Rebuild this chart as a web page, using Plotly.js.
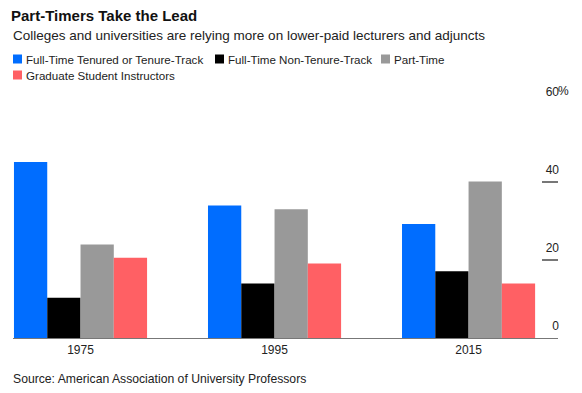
<!DOCTYPE html>
<html>
<head>
<meta charset="utf-8">
<script src="https://cdn.plot.ly/plotly-3.0.1.min.js"></script>
<style>html,body{margin:0;padding:0;background:#fff;}#chart{width:582px;height:393px;}</style>
</head>
<body>
<div id="chart"></div>
<script>
// ---- data ----
var years = ['1975', '1995', '2015'];
var seriesNames = ['Full-Time Tenured or Tenure-Track', 'Full-Time Non-Tenure-Track', 'Part-Time', 'Graduate Student Instructors'];
var tenured = [45.1, 34.0, 29.2];
var nonTenure = [10.3, 14.0, 17.1];
var partTime = [24.0, 33.0, 40.1];
var gradStudents = [20.6, 19.1, 14.0];
var yTickVals = [0, 20, 40, 60];
var yTickText = ['0', '20', '40', '60'];

// ---- styles ----
var colors = ['#006DFF', '#000000', '#999999', '#FF6064'];
var FONT = 'Liberation Sans, Arial, Helvetica, sans-serif';
var W = 582, H = 393;
var plotL = 13, plotR = 558, plotT = 104, plotB = 338;
function px(x) { return (x - plotL) / (plotR - plotL); }
function py(y) { return (plotB - y) / (plotB - plotT); }

var values = [tenured, nonTenure, partTime, gradStudents];
var traces = values.map(function (v, i) {
  return {
    type: 'bar', x: years, y: v, name: seriesNames[i],
    marker: { color: colors[i], line: { width: 0 } },
    hoverinfo: 'x+y+name'
  };
});

// legend drawn as shapes + text (positions only)
var legendPos = [[13, 59], [215, 59], [381, 59], [13, 75]];
var shapes = [], annotations = [];
seriesNames.forEach(function (n, i) {
  var lx = legendPos[i][0], ly = legendPos[i][1];
  shapes.push({ type: 'rect', xref: 'paper', yref: 'paper',
    x0: px(lx), x1: px(lx + 9), y0: py(ly - 4.5), y1: py(ly + 4.5),
    fillcolor: colors[i], line: { width: 0 } });
  annotations.push({ xref: 'paper', yref: 'paper', x: px(lx + 11), y: py(ly),
    xanchor: 'left', yanchor: 'middle', text: n, showarrow: false,
    font: { family: FONT, size: 11.6, color: '#222' } });
});

annotations.push({ xref: 'paper', yref: 'paper', x: px(11), y: py(36),
  xanchor: 'left', yanchor: 'middle', showarrow: false,
  text: 'Colleges and universities are relying more on lower-paid lecturers and adjuncts',
  font: { family: FONT, size: 13.5, color: '#222' } });
annotations.push({ xref: 'paper', yref: 'paper', x: px(11), y: py(379),
  xanchor: 'left', yanchor: 'middle', showarrow: false,
  text: 'Source: American Association of University Professors',
  font: { family: FONT, size: 12.2, color: '#222' } });
annotations.push({ xref: 'paper', yref: 'y', x: 1, y: 60,
  xanchor: 'left', yanchor: 'bottom', showarrow: false, xshift: -2, yshift: 4,
  text: '%', font: { family: FONT, size: 12, color: '#222' } });

var layout = {
  width: W, height: H,
  margin: { l: plotL, r: W - plotR, t: plotT, b: H - plotB, pad: 0 },
  paper_bgcolor: '#fff', plot_bgcolor: '#fff',
  showlegend: false,
  barmode: 'group', bargap: 0.314, bargroupgap: 0,
  title: { text: '<b>Part-Timers Take the Lead</b>', xref: 'container', yref: 'container',
    x: 11 / W, xanchor: 'left', y: 1 - 16 / H, yanchor: 'middle',
    font: { family: FONT, size: 15, color: '#111' } },
  font: { family: FONT, size: 12, color: '#222' },
  xaxis: {
    type: 'category', range: [-0.348, 2.461], fixedrange: true,
    showline: true, linecolor: '#777', linewidth: 1.2,
    showgrid: false, zeroline: false, ticks: '',
    tickfont: { family: FONT, size: 12, color: '#222' }
  },
  yaxis: {
    side: 'right', range: [0, 60], fixedrange: true,
    tickvals: yTickVals, ticktext: yTickText,
    ticks: 'inside', ticklen: 16, tickcolor: '#777', tickwidth: 1.2,
    ticklabelposition: 'inside top', ticklabeloverflow: 'allow',
    ticklabelstandoff: -4, ticklabelshift: -3,
    showgrid: false, zeroline: false, showline: false,
    tickfont: { family: FONT, size: 12, color: '#222' }
  },
  shapes: shapes,
  annotations: annotations
};

Plotly.newPlot('chart', traces, layout, { displayModeBar: false, staticPlot: true });
</script>
</body>
</html>
